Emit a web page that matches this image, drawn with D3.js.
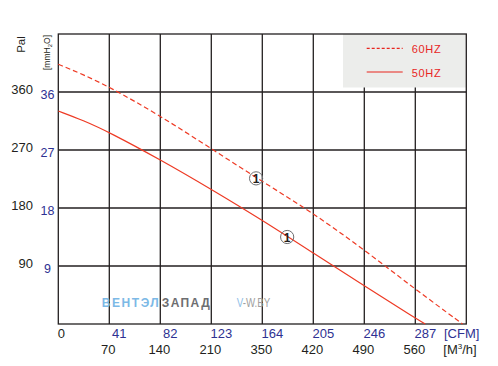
<!DOCTYPE html>
<html>
<head>
<meta charset="utf-8">
<script src="https://cdn.jsdelivr.net/npm/d3@7"></script>
<style>
  html, body { margin: 0; padding: 0; background: #fff; }
  svg { display: block; font-family: "Liberation Sans", Arial, sans-serif; }
</style>
</head>
<body>
<svg id="chart" width="498" height="366"></svg>
<script>
// ---- data ----
const cfmTicks = [0, 41, 82, 123, 164, 205, 246, 287];
const m3hLabels = ["70", "140", "210", "350", "420", "490", "560"];
const mmTicks = [9, 18, 27, 36];
const palLabels = ["90", "180", "270", "360"];

const cfm60 = [0, 20, 41, 82, 123, 164, 205, 246, 287, 325];
const p60   = [40.3, 38.7, 36.8, 32.3, 27.2, 22.1, 17.2, 11.5, 5.4, 0];
const cfm50 = [0, 20, 41, 82, 123, 164, 205, 246, 287, 295];
const p50   = [33.05, 31.6, 29.75, 25.5, 20.9, 16.1, 11.0, 5.9, 0.9, 0];

const markerCfm = [159, 184];
const markerP   = [22.6, 13.5];
const seriesNames = ["60HZ", "50HZ"];

// ---- layout ----
const svg = d3.select("#chart");
const x = d3.scaleLinear().domain([0, 328]).range([58.3, 466.3]);
const y = d3.scaleLinear().domain([0, 45]).range([324, 34]);

const ink = "#231f20", blue = "#2e3192", red = "#ee3a24";

// grid lines
const g = svg.append("g");
g.selectAll("line.v").data(cfmTicks.slice(1)).join("line")
  .attr("x1", d => x(d)).attr("x2", d => x(d))
  .attr("y1", y(45)).attr("y2", y(0))
  .attr("stroke", ink).attr("stroke-width", 1.3);
g.selectAll("line.h").data(mmTicks).join("line")
  .attr("x1", x(0)).attr("x2", x(328))
  .attr("y1", d => y(d)).attr("y2", d => y(d))
  .attr("stroke", ink).attr("stroke-width", 1.3);

// legend box (over grid)
svg.append("rect").attr("x", 343).attr("y", y(45)).attr("width", x(328) - 343).attr("height", 53.5)
  .attr("fill", "#ecedeb");

// frame
svg.append("rect").attr("x", x(0)).attr("y", y(45)).attr("width", x(328) - x(0)).attr("height", y(0) - y(45))
  .attr("fill", "none").attr("stroke", ink).attr("stroke-width", 1.3);

// watermark
const wm = svg.append("g").attr("font-weight", "bold").attr("font-size", 12);
wm.append("text").attr("x", 101.7).attr("y", 306.5).attr("fill", "#7cb9e6")
  .attr("textLength", 57).attr("lengthAdjust", "spacing").text("ВЕНТЭЛ");
wm.append("text").attr("x", 161.7).attr("y", 306.5).attr("fill", "#6d6e71")
  .attr("textLength", 48).attr("lengthAdjust", "spacing").text("ЗАПАД");
const vw = svg.append("text").attr("x", 236.7).attr("y", 306.5).attr("font-size", 12)
  .attr("textLength", 33.5).attr("lengthAdjust", "spacingAndGlyphs");
vw.append("tspan").attr("fill", "#8fc0e8").text("V");
vw.append("tspan").attr("fill", "#a0a0a0").text("-W.BY");

// curves
const line = d3.line().x(d => x(d[0])).y(d => y(d[1])).curve(d3.curveBasis);
svg.append("path").datum(cfm60.map((c, i) => [c, p60[i]])).attr("d", line)
  .attr("fill", "none").attr("stroke", red).attr("stroke-width", 1.2).attr("stroke-dasharray", "5,3");
svg.append("path").datum(cfm50.map((c, i) => [c, p50[i]])).attr("d", line)
  .attr("fill", "none").attr("stroke", red).attr("stroke-width", 1.2);

// markers
const mk = svg.append("g");
markerCfm.forEach((c, i) => {
  mk.append("circle").attr("cx", x(c)).attr("cy", y(markerP[i])).attr("r", 6.6)
    .attr("fill", "none").attr("stroke", "#6d6e71").attr("stroke-width", 1);
  mk.append("text").attr("x", x(c)).attr("y", y(markerP[i]) + 4.5).attr("text-anchor", "middle")
    .attr("font-size", 12).attr("font-weight", "bold").attr("fill", ink).text("1");
});

// legend entries
const lg = svg.append("g");
[48.3, 72].forEach((ly, i) => {
  lg.append("line").attr("x1", 366.7).attr("x2", 402.7).attr("y1", ly).attr("y2", ly)
    .attr("stroke", "#e8261f").attr("stroke-width", 1.2)
    .attr("stroke-dasharray", i === 0 ? "3,2" : null);
  lg.append("text").attr("x", 411.7).attr("y", ly + 5).attr("font-size", 11)
    .attr("letter-spacing", 0.7).attr("fill", "#e8261f").text(seriesNames[i]);
});

// y labels
svg.selectAll("text.pal").data(mmTicks).join("text")
  .attr("x", 33).attr("y", d => y(d) + 1.5).attr("text-anchor", "end")
  .attr("font-size", 13).attr("fill", ink).text((d, i) => palLabels[i]);
svg.selectAll("text.mm").data(mmTicks).join("text")
  .attr("x", 47.5).attr("y", d => y(d) + 7).attr("text-anchor", "middle")
  .attr("font-size", 12.5).attr("fill", blue).text(d => d);

// y titles
svg.append("text").attr("transform", "translate(25,44.5) rotate(-90)").attr("text-anchor", "middle")
  .attr("font-size", 11.5).attr("fill", ink).text("Pal");
const mmt = svg.append("text").attr("transform", "translate(49.5,52.5) rotate(-90)").attr("text-anchor", "middle")
  .attr("font-size", 8.5).attr("fill", ink);
mmt.append("tspan").text("[mmH");
mmt.append("tspan").attr("font-size", 6).attr("dy", 2).text("2");
mmt.append("tspan").attr("dy", -2).text("O]");

// x labels
svg.append("text").attr("x", x(0) - 0.6).attr("y", 338).attr("font-size", 13).attr("fill", ink).text("0");
svg.selectAll("text.cfm").data(cfmTicks.slice(1)).join("text")
  .attr("x", d => x(d) + 10).attr("y", 338).attr("text-anchor", "middle")
  .attr("font-size", 13).attr("fill", blue).text(d => d);
svg.append("text").attr("x", 444).attr("y", 338).attr("font-size", 13).attr("fill", blue).text("[CFM]");
svg.selectAll("text.m3").data(cfmTicks.slice(1)).join("text")
  .attr("x", d => x(d) - 1).attr("y", 354).attr("text-anchor", "middle")
  .attr("font-size", 13).attr("fill", ink).text((d, i) => m3hLabels[i]);
const m3t = svg.append("text").attr("x", 443.3).attr("y", 354).attr("font-size", 13).attr("fill", ink);
m3t.append("tspan").text("[M");
m3t.append("tspan").attr("font-size", 8).attr("dy", -5).text("3");
m3t.append("tspan").attr("dy", 5).text("/h]");
</script>
</body>
</html>
